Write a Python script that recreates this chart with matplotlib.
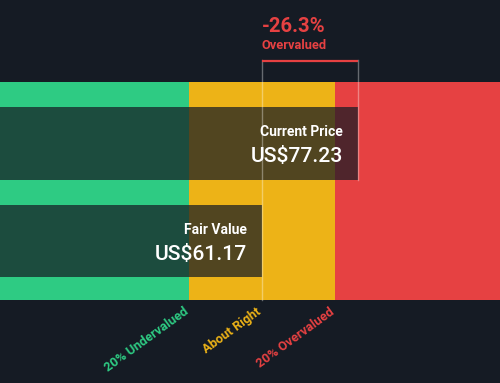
import matplotlib
matplotlib.use("Agg")
import matplotlib.pyplot as plt
from matplotlib.patches import Rectangle

# ---- data ----
fair_value = 61.17
current_price = 77.23
band_labels = ["20% Undervalued", "About Right", "20% Overvalued"]
band_colors = ["#2ecb83", "#edb317", "#e64142"]
currency = "US$"

under = fair_value * 0.8
over = fair_value * 1.2
diff_pct = (fair_value - current_price) / fair_value * 100

BG = "#151b24"
plt.rcParams['font.family'] = ['Roboto', 'DejaVu Sans']

fig = plt.figure(figsize=(5.0, 3.83), dpi=100)
fig.patch.set_facecolor(BG)
ax = fig.add_axes([0, 0, 1, 1])
ax.set_facecolor(BG)
px_per_unit = (335 - 189) / (over - under)
x0 = under - 189 / px_per_unit
x1 = x0 + 500 / px_per_unit
ax.set_xlim(x0, x1)
ax.set_ylim(383, 0)
ax.axis('off')

band_top, band_bot = 82, 300
edges = [x0, under, over, x1]
for i in range(3):
    ax.add_patch(Rectangle((edges[i], band_top), edges[i + 1] - edges[i],
                           band_bot - band_top, facecolor=band_colors[i],
                           edgecolor='none', zorder=1))

# overlay bars
bars = [("Current Price", current_price, 107, 180),
        ("Fair Value", fair_value, 205, 277)]
for name, val, t, b in bars:
    ax.add_patch(Rectangle((x0, t), val - x0, b - t, facecolor=BG,
                           alpha=0.72, edgecolor='none', zorder=2))
    off = 15 / px_per_unit
    ax.text(val - off, t + 29, name, color='white', fontsize=10,
            fontweight='bold', ha='right', va='baseline', zorder=4)
    ax.text(val - off, t + 55, f"{currency}{val:.2f}", color='white',
            fontsize=15.2, fontweight='medium', ha='right', va='baseline', zorder=4)

# vertical lines
ax.plot([fair_value, fair_value], [60, band_bot], color='white', alpha=0.35,
        lw=1, zorder=3)
ax.plot([current_price, current_price], [60, 180], color='white', alpha=0.35,
        lw=1, zorder=3)
ax.plot([fair_value, current_price], [60.5, 60.5], color=band_colors[2],
        lw=1.6, zorder=3, solid_capstyle='butt')

ax.text(fair_value, 32, f"{diff_pct:.1f}%", color=band_colors[2], fontsize=14.6,
        fontweight='bold', ha='left', va='baseline')
ax.text(fair_value, 49, "Overvalued", color=band_colors[2], fontsize=9.3,
        fontweight='bold', ha='left', va='baseline')

# band labels
shift = 6 / px_per_unit
for lab, xe, c in zip(band_labels, [under, fair_value, over], band_colors):
    ax.text(xe - shift, 305, lab, color=c, fontsize=9.3, fontweight='bold',
            ha='right', va='top', rotation=36, rotation_mode='anchor')

fig.savefig("out.png", dpi=100, facecolor=BG)
